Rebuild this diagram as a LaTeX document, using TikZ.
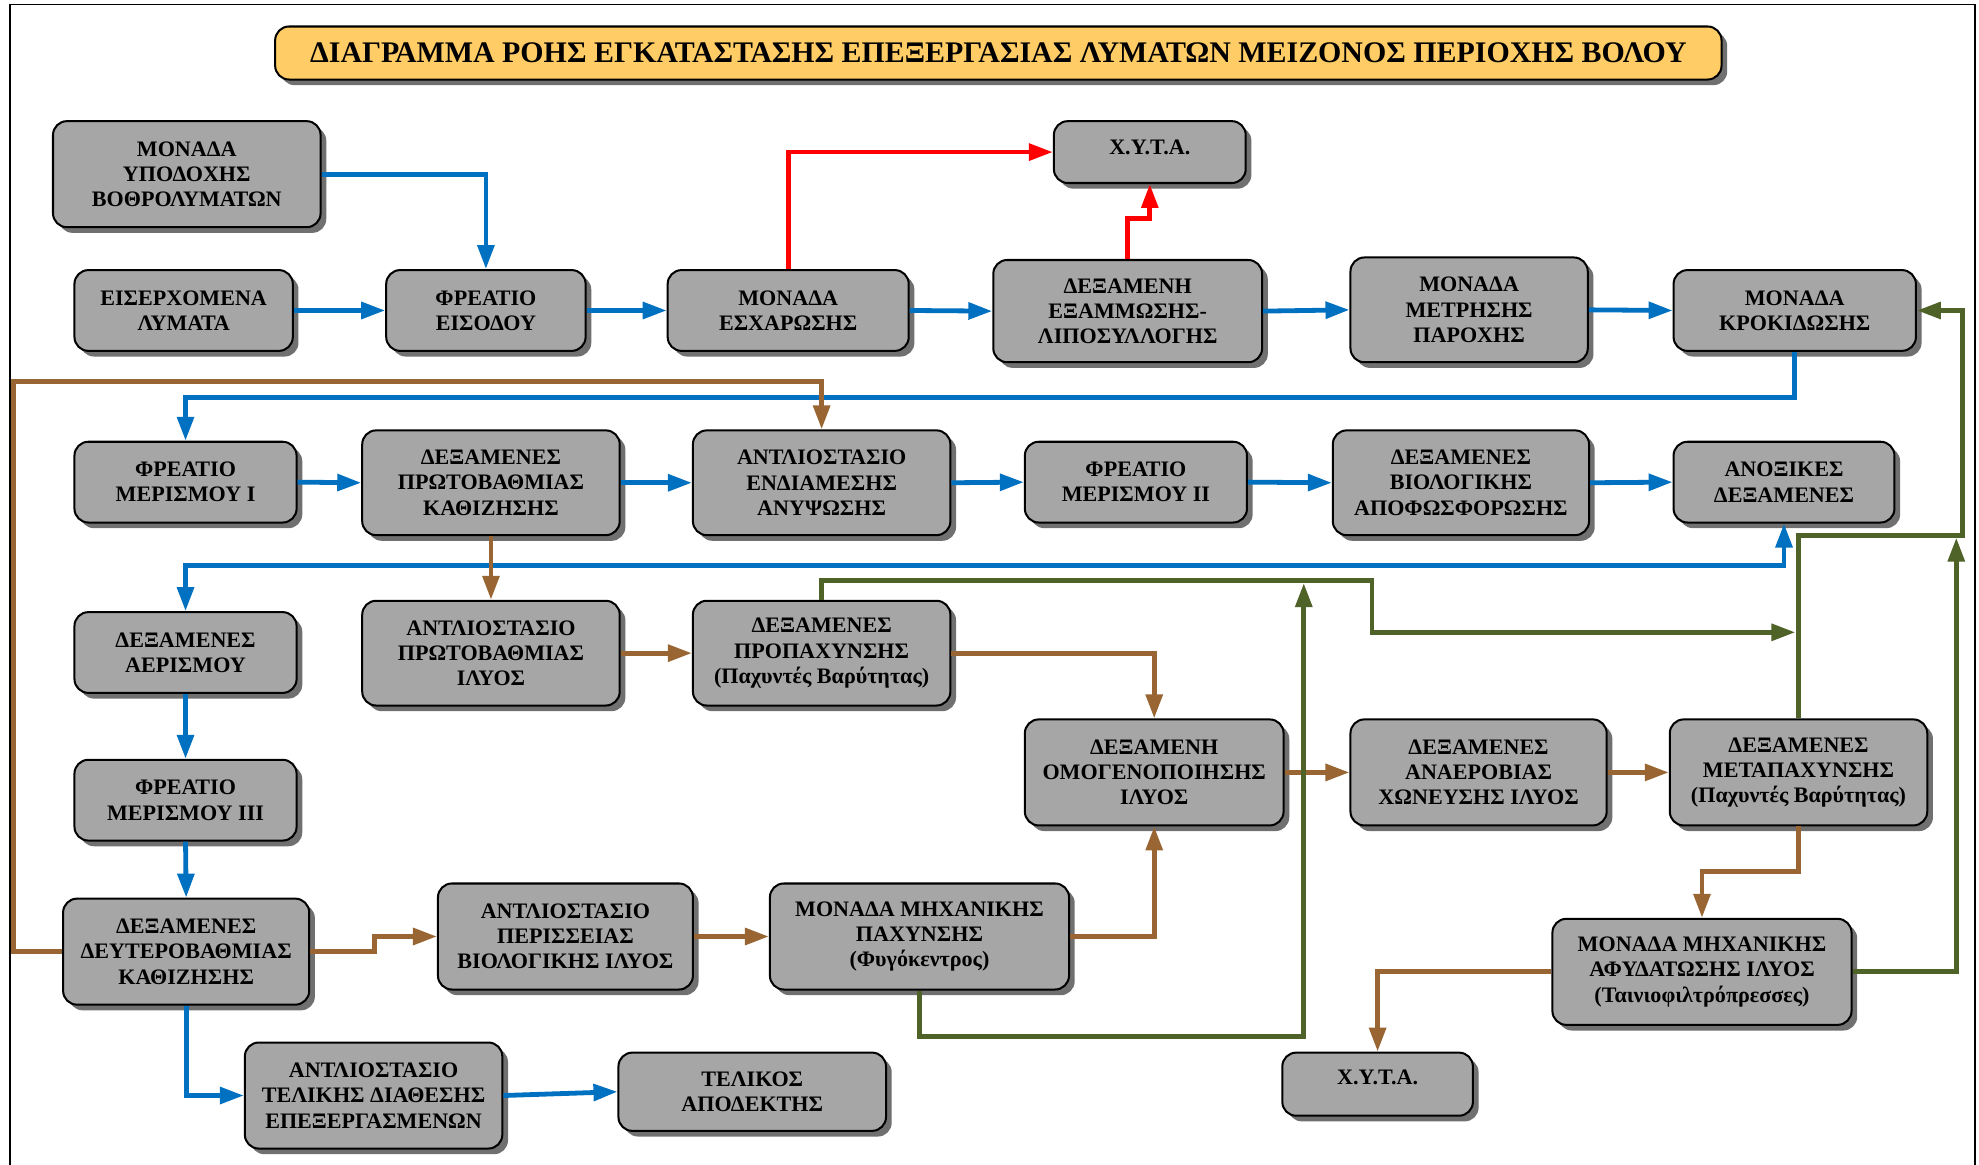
\documentclass[tikz,border=0pt]{standalone}
\usepackage{fontspec}
\setmainfont{Liberation Serif}
\usetikzlibrary{arrows.meta,shadows}

\definecolor{flowblue}{RGB}{0,112,192}
\definecolor{flowred}{RGB}{255,0,0}
\definecolor{flowbrown}{RGB}{153,102,51}
\definecolor{flowgreen}{RGB}{79,98,40}
\definecolor{unitgray}{RGB}{166,166,166}
\definecolor{shadowgray}{RGB}{112,112,112}
\definecolor{titlefill}{RGB}{255,204,102}

\begin{document}
\begin{tikzpicture}[x=1pt,y=-1pt,
  unit/.style={draw=black, line width=1.6pt, fill=unitgray, rounded corners=11pt,
    align=center, inner sep=2pt, text=black,
    font=\bfseries\fontsize{17.5}{20}\selectfont,
    drop shadow={shadow xshift=4.5pt, shadow yshift=-4.5pt, fill=shadowgray, opacity=1}},
  titlebox/.style={unit, fill=titlefill, font=\bfseries\fontsize{23.7}{28}\selectfont},
  flow/.style={line width=3.8pt, -{Triangle[length=19pt,width=13pt]}},
  blueflow/.style={flow, draw=flowblue},
  redflow/.style={flow, draw=flowred},
  brownflow/.style={flow, draw=flowbrown},
  greenflow/.style={flow, draw=flowgreen}
]
\useasboundingbox (0,0) rectangle (1568,923);
\fill[white] (0,0) rectangle (1568,923);

% outer frame
\draw[line width=1.4pt] (8,3.5) rectangle (1565,940);

% title
\node[titlebox, minimum width=1146pt, minimum height=42pt] (title) at (791,42)
  {ΔΙΑΓΡΑΜΜΑ ΡΟΗΣ ΕΓΚΑΤΑΣΤΑΣΗΣ ΕΠΕΞΕΡΓΑΣΙΑΣ ΛΥΜΑΤΩΝ ΜΕΙΖΟΝΟΣ ΠΕΡΙΟΧΗΣ ΒΟΛΟΥ};

% --- inlet works
\node[unit, minimum width=212pt, minimum height=84pt] (ypodoxhs) at (148,138) {ΜΟΝΑΔΑ\\ΥΠΟΔΟΧΗΣ\\ΒΟΘΡΟΛΥΜΑΤΩΝ};
\node[unit, minimum width=173pt, minimum height=64pt] (eiserx) at (145.5,246) {ΕΙΣΕΡΧΟΜΕΝΑ\\ΛΥΜΑΤΑ};
\node[unit, minimum width=158pt, minimum height=64pt] (freatioeis) at (385,246) {ΦΡΕΑΤΙΟ\\ΕΙΣΟΔΟΥ};
\node[unit, minimum width=191pt, minimum height=64pt] (esxar) at (624.5,246) {ΜΟΝΑΔΑ\\ΕΣΧΑΡΩΣΗΣ};
\node[unit, minimum width=152pt, minimum height=49pt] (xytaup) at (911,120.5) {\raisebox{4pt}[\height][\depth]{Χ.Υ.Τ.Α.}};
\node[unit, minimum width=213pt, minimum height=81pt] (examm) at (893.5,246.5) {ΔΕΞΑΜΕΝΗ\\ΕΞΑΜΜΩΣΗΣ-\\ΛΙΠΟΣΥΛΛΟΓΗΣ};
\node[unit, minimum width=188pt, minimum height=83pt] (metrisi) at (1164,245.5) {ΜΟΝΑΔΑ\\ΜΕΤΡΗΣΗΣ\\ΠΑΡΟΧΗΣ};
\node[unit, minimum width=192pt, minimum height=64pt] (krokid) at (1422,246) {ΜΟΝΑΔΑ\\ΚΡΟΚΙΔΩΣΗΣ};

% --- primary and biological stage
\node[unit, minimum width=176pt, minimum height=64pt] (merI) at (147,382) {ΦΡΕΑΤΙΟ\\ΜΕΡΙΣΜΟΥ I};
\node[unit, minimum width=204pt, minimum height=83pt] (prwtob) at (389,382.5) {ΔΕΞΑΜΕΝΕΣ\\ΠΡΩΤΟΒΑΘΜΙΑΣ\\ΚΑΘΙΖΗΣΗΣ};
\node[unit, minimum width=204pt, minimum height=83pt] (endiam) at (651,382.5) {ΑΝΤΛΙΟΣΤΑΣΙΟ\\ΕΝΔΙΑΜΕΣΗΣ\\ΑΝΥΨΩΣΗΣ};
\node[unit, minimum width=176pt, minimum height=64pt] (merII) at (900,382) {ΦΡΕΑΤΙΟ\\ΜΕΡΙΣΜΟΥ II};
\node[unit, minimum width=203pt, minimum height=83pt] (biol) at (1157.5,382.5) {ΔΕΞΑΜΕΝΕΣ\\ΒΙΟΛΟΓΙΚΗΣ\\ΑΠΟΦΩΣΦΟΡΩΣΗΣ};
\node[unit, minimum width=175pt, minimum height=64pt] (anox) at (1413.5,382) {ΑΝΟΞΙΚΕΣ\\ΔΕΞΑΜΕΝΕΣ};

\node[unit, minimum width=176pt, minimum height=64pt] (aerism) at (147,517) {ΔΕΞΑΜΕΝΕΣ\\ΑΕΡΙΣΜΟΥ};
\node[unit, minimum width=204pt, minimum height=83pt] (antlilyos) at (389,517.5) {ΑΝΤΛΙΟΣΤΑΣΙΟ\\ΠΡΩΤΟΒΑΘΜΙΑΣ\\ΙΛΥΟΣ};
\node[unit, minimum width=204pt, minimum height=83pt] (propax) at (651,517.5) {ΔΕΞΑΜΕΝΕΣ\\ΠΡΟΠΑΧΥΝΣΗΣ\\(Παχυντές Βαρύτητας)};

% --- sludge line
\node[unit, minimum width=205pt, minimum height=84pt] (omogen) at (914.5,612) {ΔΕΞΑΜΕΝΗ\\ΟΜΟΓΕΝΟΠΟΙΗΣΗΣ\\ΙΛΥΟΣ};
\node[unit, minimum width=203pt, minimum height=84pt] (anaer) at (1171.5,612) {ΔΕΞΑΜΕΝΕΣ\\ΑΝΑΕΡΟΒΙΑΣ\\ΧΩΝΕΥΣΗΣ ΙΛΥΟΣ};
\node[unit, minimum width=204pt, minimum height=84pt] (metapax) at (1425,612) {ΔΕΞΑΜΕΝΕΣ\\ΜΕΤΑΠΑΧΥΝΣΗΣ\\(Παχυντές Βαρύτητας)};
\node[unit, minimum width=176pt, minimum height=64pt] (merIII) at (147,634) {ΦΡΕΑΤΙΟ\\ΜΕΡΙΣΜΟΥ III};

\node[unit, minimum width=195pt, minimum height=84pt] (deyter) at (147.5,754) {ΔΕΞΑΜΕΝΕΣ\\ΔΕΥΤΕΡΟΒΑΘΜΙΑΣ\\ΚΑΘΙΖΗΣΗΣ};
\node[unit, minimum width=202pt, minimum height=84pt] (periss) at (448,742) {ΑΝΤΛΙΟΣΤΑΣΙΟ\\ΠΕΡΙΣΣΕΙΑΣ\\ΒΙΟΛΟΓΙΚΗΣ ΙΛΥΟΣ};
\node[unit, minimum width=237pt, minimum height=84pt] (mhxpax) at (728.5,742) {ΜΟΝΑΔΑ ΜΗΧΑΝΙΚΗΣ\\ΠΑΧΥΝΣΗΣ\\(Φυγόκεντρος)};
\node[unit, minimum width=237pt, minimum height=84pt] (afyd) at (1348.5,770) {ΜΟΝΑΔΑ ΜΗΧΑΝΙΚΗΣ\\ΑΦΥΔΑΤΩΣΗΣ ΙΛΥΟΣ\\(Ταινιοφιλτρόπρεσσες)};

\node[unit, minimum width=204pt, minimum height=84pt] (teliki) at (296,868) {ΑΝΤΛΙΟΣΤΑΣΙΟ\\ΤΕΛΙΚΗΣ ΔΙΑΘΕΣΗΣ\\ΕΠΕΞΕΡΓΑΣΜΕΝΩΝ};
\node[unit, minimum width=212pt, minimum height=62pt] (telikos) at (596,865) {ΤΕΛΙΚΟΣ\\ΑΠΟΔΕΚΤΗΣ};
\node[unit, minimum width=151pt, minimum height=50pt] (xytadown) at (1091.5,859) {\raisebox{5pt}[\height][\depth]{Χ.Υ.Τ.Α.}};

% --- wastewater (blue)
\draw[blueflow] (ypodoxhs.east) -| (freatioeis.north);
\draw[blueflow] (eiserx.east) -- (freatioeis.west);
\draw[blueflow] (freatioeis.east) -- (esxar.west);
\draw[blueflow] (esxar.east) -- (examm.west);
\draw[blueflow] (examm.east) -- (metrisi.west);
\draw[blueflow] (metrisi.east) -- (krokid.west);
\draw[blueflow] (krokid.south) -- ++(0,36) -| (merI.north);
\draw[blueflow] (merI.east) -- (prwtob.west);
\draw[blueflow] (prwtob.east) -- (endiam.west);
\draw[blueflow] (endiam.east) -- (merII.west);
\draw[blueflow] (merII.east) -- (biol.west);
\draw[blueflow] (biol.east) -- (anox.west);
\draw[blueflow, {Triangle[length=19pt,width=13pt]}-{Triangle[length=19pt,width=13pt]}]
  (aerism.north) -- ++(0,-36) -| (anox.south);
\draw[blueflow] (aerism.south) -- (merIII.north);
\draw[blueflow] (merIII.south) -- (deyter.north);
\draw[blueflow] (deyter.south) |- (teliki.west);
\draw[blueflow] (teliki.east) -- (telikos.west);

% --- screenings and grit (red)
\draw[redflow] (esxar.north) |- (xytaup.west);
\draw[redflow] (examm.north) -- ++(0,-32) -| (xytaup.south);

% --- sludge (brown)
\draw[brownflow] (deyter.west) -| (10.5,302) -| (endiam.north);
\draw[brownflow] (prwtob.south) -- (antlilyos.north);
\draw[brownflow] (antlilyos.east) -- (propax.west);
\draw[brownflow] (propax.east) -| (omogen.north);
\draw[brownflow] (deyter.east) -- ++(51,0) |- (periss.west);
\draw[brownflow] (periss.east) -- (mhxpax.west);
\draw[brownflow] (mhxpax.east) -| (omogen.south);
\draw[brownflow] (omogen.east) -- (anaer.west);
\draw[brownflow] (anaer.east) -- (metapax.west);
\draw[brownflow] (metapax.south) -- ++(0,36) -| (afyd.north);
\draw[brownflow] (afyd.west) -| (xytadown.north);

% --- return liquors (green)
\draw[greenflow] (metapax.north) |- (1555,424) |- (krokid.east);
\coordinate (retjoin) at (1422.5,501);
\draw[greenflow] (propax.north) |- (1087,460) |- (retjoin);
\draw[greenflow] (mhxpax.south) |- (1033,821) -- (1033,462);
\draw[greenflow] (afyd.east) -| (1550,426);
\end{tikzpicture}
\end{document}
